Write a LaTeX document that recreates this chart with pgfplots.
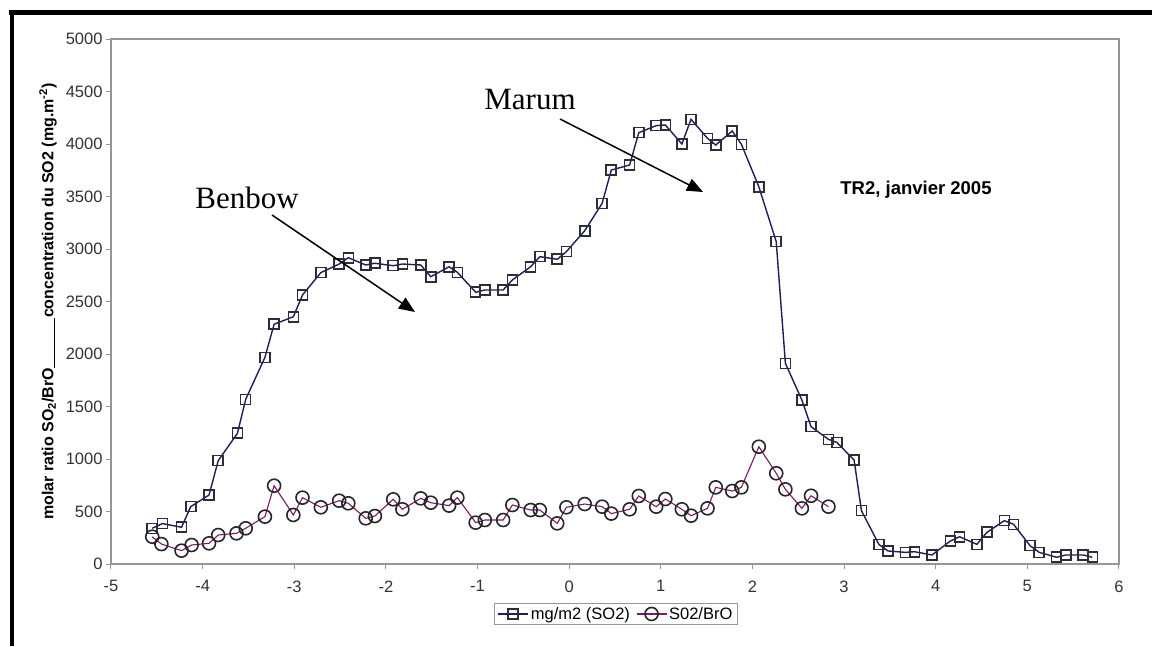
\documentclass[border=0pt]{standalone}
\usepackage{fontspec}
\setmainfont{Liberation Sans}
\newfontfamily\timesfont{Liberation Serif}
\usepackage{pgfplots}
\pgfplotsset{compat=1.18}
\usetikzlibrary{arrows.meta}

\definecolor{axgray}{RGB}{150,150,150}
\definecolor{sqline}{RGB}{30,30,90}
\definecolor{sqmark}{RGB}{45,45,55}
\definecolor{cirline}{RGB}{125,25,105}

\begin{document}
\begin{tikzpicture}[x=1pt,y=1pt]
\path[use as bounding box] (0,0) rectangle (1152,646);
\fill[white] (0,0) rectangle (1152,646);
% black frame (cut at right and bottom)
\draw[line width=5pt, black] (9,633.5) -- (1152,633.5);
\draw[line width=4pt, black] (11.5,0) -- (11.5,636);

\begin{axis}[
	at={(111pt,82pt)}, anchor=south west,
	scale only axis,
	width=1008pt, height=525pt,
	xmin=-5, xmax=6,
	ymin=0, ymax=5000,
	xtick={-5,-4,-3,-2,-1,0,1,2,3,4,5,6},
	ytick={0,500,1000,1500,2000,2500,3000,3500,4000,4500,5000},
	tick align=outside,
	tick pos=left,
	major tick length=5pt,
	tick style={axgray, line width=1pt},
	axis line style={axgray, line width=1.5pt},
	/pgf/number format/assume math mode=true,
	/pgf/number format/1000 sep={},
	ticklabel style={font=\fontsize{16.5}{19}\selectfont, text=black!80},
	xticklabel style={yshift=-8pt},
	ylabel={\textbf{molar ratio SO\textsubscript{2}/BrO\rule[-1.5pt]{50pt}{1pt}concentration du SO2 (mg.m\textsuperscript{-2})}},
	ylabel style={at={(axis description cs:-0.0625,0.5)}, anchor=center, font=\fontsize{16}{19}\selectfont},
	legend columns=2,
	legend image code/.code={\draw[mark repeat=2, mark phase=2, #1] plot coordinates {(0pt,0pt) (15pt,0pt) (30pt,0pt)};},
	legend style={
		at={(0.501,-0.0952)}, anchor=center,
		draw=axgray, line width=0.8pt,
		font=\fontsize{16.5}{19}\selectfont,
		/tikz/every even column/.append style={column sep=4pt}
	},
	legend cell align={left},
]
\addplot [sqline, line width=1.4pt, mark=square, mark size=5pt, mark options={draw=sqmark, line width=1.6pt, fill=none}]
table {%
-4.55 340
-4.44 385
-4.23 350
-4.13 546
-3.93 657
-3.83 984
-3.62 1245
-3.53 1568
-3.32 1968
-3.22 2283
-3.01 2355
-2.91 2562
-2.71 2775
-2.51 2857
-2.41 2917
-2.22 2848
-2.12 2864
-1.92 2841
-1.82 2857
-1.62 2848
-1.51 2736
-1.31 2831
-1.22 2778
-1.02 2588
-0.92 2610
-0.72 2610
-0.62 2705
-0.42 2831
-0.32 2927
-0.13 2902
-0.03 2975
0.17 3174
0.36 3435
0.46 3752
0.66 3800
0.76 4108
0.95 4175
1.05 4181
1.23 4000
1.33 4235
1.51 4054
1.60 3990
1.78 4124
1.88 3997
2.07 3593
2.26 3070
2.36 1911
2.54 1562
2.64 1308
2.83 1187
2.92 1159
3.11 990
3.19 508
3.38 187
3.48 124
3.67 111
3.77 117
3.96 86
4.16 219
4.26 260
4.45 187
4.56 302
4.75 413
4.85 378
5.03 175
5.13 111
5.32 64
5.42 86
5.61 86
5.71 64
};
\addlegendentry{mg/m2 (SO2)}
\addplot [cirline, line width=1.1pt, mark=o, mark size=6.5pt, mark options={draw=black!85, line width=1.6pt, fill=none}]
table {%
-4.55 260
-4.45 190
-4.23 127
-4.12 181
-3.93 197
-3.83 276
-3.63 292
-3.53 340
-3.32 451
-3.22 746
-3.01 467
-2.91 632
-2.71 540
-2.51 603
-2.41 578
-2.22 435
-2.12 457
-1.92 616
-1.82 521
-1.62 625
-1.51 584
-1.31 556
-1.22 632
-1.02 394
-0.92 419
-0.72 419
-0.62 562
-0.42 514
-0.32 514
-0.13 387
-0.03 540
0.17 571
0.36 546
0.46 480
0.66 521
0.76 648
0.95 546
1.05 619
1.23 521
1.33 460
1.51 530
1.60 730
1.78 695
1.88 730
2.07 1117
2.26 864
2.36 711
2.54 530
2.64 650
2.83 546
};
\addlegendentry{S02/BrO}
\end{axis}

% annotations
\node[font=\timesfont\fontsize{31}{36}\selectfont] at (247,448) {Benbow};
\node[font=\timesfont\fontsize{31}{36}\selectfont] at (530,546) {Marum};
\draw[line width=1.5pt, -{Triangle[length=16pt, width=13pt]}] (272,431) -- (415,334);
\draw[line width=1.5pt, -{Triangle[length=16pt, width=13pt]}] (560,527) -- (703,454);
\node[font=\bfseries\fontsize{18.5}{22}\selectfont] at (916,456) {TR2, janvier 2005};
\end{tikzpicture}
\end{document}
